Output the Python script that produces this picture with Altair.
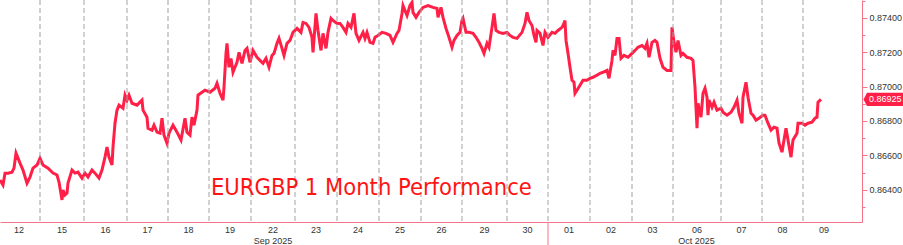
import altair as alt
import pandas as pd

# hourly-ish bar index and EURGBP price
bars = [0, 1.5, 2.5, 4, 6, 7, 8, 9, 10, 11.5, 13.5, 15, 16.5, 18.5, 20, 21.5, 24, 26.5, 28.5, 29.5,
        31, 31.5, 32.5, 33.5, 34, 36, 37.5, 39, 41, 42.5, 44, 46, 47.5, 49.5, 51, 52.5, 53.5, 54.5, 56, 56.5,
        57.5, 58.5, 59.5, 61.5, 62.5, 63.5, 64.5, 66, 68.5, 71, 71.5, 73.5, 74, 76, 77, 78.5, 80, 81, 82, 83.5,
        84.5, 86.5, 88.5, 90.5, 92.5, 93.5, 95, 96, 97, 98.5, 99, 101, 102.5, 105, 107.5, 108.5, 110, 111.5, 112, 113,
        113.5, 114.5, 115.5, 116.5, 117.5, 118.5, 119.5, 121, 122.5, 123.5, 125, 126.5, 128.5, 130, 131.5, 133, 134.5, 136, 137, 138.5,
        139.5, 141, 142, 143.5, 145, 146.5, 148.5, 150.5, 151.5, 153, 154.5, 156, 156.5, 158, 159, 160.5, 161.5, 163, 164, 165.5,
        166.5, 168.5, 170, 171.5, 173, 174, 175.5, 177, 178, 179.5, 181.5, 182.5, 183.5, 185, 186.5, 187.5, 189, 191, 193, 195,
        196.5, 198.5, 199.5, 201, 201.5, 203.5, 205, 206, 206.5, 208, 209.5, 211.5, 214, 216.5, 218.5, 219, 220.5, 221.5, 223, 224.5,
        226, 227, 228.5, 230, 231, 231.5, 233, 234.5, 236.5, 238, 239.5, 241, 242, 243.5, 244.5, 246, 247, 248, 249.5, 251.5,
        253.5, 255, 256.5, 258.5, 261, 262.5, 263.5, 264.5, 266, 267, 268, 268.5, 270, 271.5, 272.5, 274, 276, 277.5, 279, 281,
        281.5, 282.5, 283, 284, 285, 286, 287, 287.5, 288.5, 290, 291.5, 293.5, 295, 296.5, 298.5, 300, 301.5, 303.5, 304.5, 306,
        306.5, 307.5, 308.5, 309.5, 310.5, 312, 314, 316, 317.5, 319, 321, 322.5, 323.5, 324.5, 326, 327.5, 328.5, 330, 331.5, 333.5,
        335.5, 336, 337, 338, 339, 340.5, 341.5, 343.5, 345.5, 346.5, 347.5, 348.5, 349, 350.5, 351.5, 352.5, 353.5, 354, 354.5, 356,
        357, 358.5, 360.5, 361.5, 363.5, 365.5, 367, 368.5, 369.5, 371, 371.5, 373, 374, 375.5, 376.5, 378, 379.5, 381.5, 382.5, 384,
        385.5, 387, 388.5, 389.5, 391, 392, 393, 394, 395.5, 396.5, 398.5, 399, 401, 402.5, 404, 406, 407.5, 408.5, 409, 410.5]

prices = [0.86457, 0.86428, 0.86497, 0.86497, 0.86503, 0.86526, 0.86613, 0.86584, 0.86555, 0.86515, 0.86439, 0.86474, 0.86526, 0.86544, 0.86584, 0.86544, 0.86526, 0.86497, 0.86486, 0.86445,
          0.86341, 0.86399, 0.86370, 0.86381, 0.86439, 0.86515, 0.86497, 0.86503, 0.86468, 0.86497, 0.86474, 0.86515, 0.86497, 0.86468, 0.86515, 0.86590, 0.86648, 0.86590, 0.86544, 0.86648,
          0.86787, 0.86863, 0.86892, 0.86874, 0.86950, 0.86921, 0.86950, 0.86903, 0.86892, 0.86921, 0.86863, 0.86822, 0.86758, 0.86747, 0.86776, 0.86735, 0.86729, 0.86816, 0.86718, 0.86671,
          0.86729, 0.86776, 0.86735, 0.86689, 0.86816, 0.86735, 0.86718, 0.86822, 0.86776, 0.86863, 0.86950, 0.86967, 0.86979, 0.86967, 0.86990, 0.87019, 0.86961, 0.86921, 0.86996, 0.87193,
          0.87251, 0.87112, 0.87164, 0.87083, 0.87112, 0.87141, 0.87199, 0.87135, 0.87210, 0.87222, 0.87141, 0.87210, 0.87170, 0.87152, 0.87135, 0.87164, 0.87112, 0.87181, 0.87193, 0.87251,
          0.87280, 0.87222, 0.87181, 0.87251, 0.87268, 0.87315, 0.87338, 0.87315, 0.87373, 0.87367, 0.87344, 0.87286, 0.87199, 0.87425, 0.87326, 0.87210, 0.87309, 0.87222, 0.87315, 0.87396,
          0.87384, 0.87367, 0.87367, 0.87344, 0.87315, 0.87367, 0.87344, 0.87425, 0.87309, 0.87268, 0.87315, 0.87280, 0.87315, 0.87257, 0.87251, 0.87286, 0.87297, 0.87315, 0.87309, 0.87297,
          0.87257, 0.87309, 0.87326, 0.87425, 0.87471, 0.87413, 0.87471, 0.87489, 0.87431, 0.87402, 0.87431, 0.87460, 0.87471, 0.87460, 0.87454, 0.87402, 0.87460, 0.87402, 0.87338, 0.87286,
          0.87228, 0.87268, 0.87297, 0.87315, 0.87384, 0.87396, 0.87315, 0.87315, 0.87309, 0.87286, 0.87257, 0.87222, 0.87193, 0.87251, 0.87228, 0.87344, 0.87425, 0.87326, 0.87315, 0.87309,
          0.87315, 0.87297, 0.87286, 0.87280, 0.87315, 0.87367, 0.87431, 0.87384, 0.87355, 0.87297, 0.87257, 0.87326, 0.87309, 0.87239, 0.87315, 0.87286, 0.87315, 0.87309, 0.87326, 0.87344,
          0.87355, 0.87384, 0.87268, 0.87193, 0.87112, 0.87037, 0.87025, 0.86961, 0.86979, 0.87008, 0.87037, 0.87037, 0.87048, 0.87054, 0.87066, 0.87077, 0.87083, 0.87094, 0.87048, 0.87152,
          0.87210, 0.87181, 0.87280, 0.87280, 0.87164, 0.87181, 0.87170, 0.87193, 0.87210, 0.87228, 0.87239, 0.87222, 0.87251, 0.87170, 0.87257, 0.87268, 0.87257, 0.87164, 0.87112, 0.87094,
          0.87094, 0.87344, 0.87257, 0.87199, 0.87268, 0.87181, 0.87193, 0.87170, 0.87164, 0.87152, 0.86996, 0.86758, 0.86903, 0.86822, 0.86961, 0.86990, 0.86938, 0.86834, 0.86921, 0.86880,
          0.86909, 0.86863, 0.86874, 0.86851, 0.86834, 0.86851, 0.86880, 0.86921, 0.86845, 0.86787, 0.86938, 0.87025, 0.86938, 0.86845, 0.86834, 0.86805, 0.86816, 0.86834, 0.86834, 0.86787,
          0.86747, 0.86764, 0.86758, 0.86671, 0.86619, 0.86689, 0.86758, 0.86689, 0.86590, 0.86689, 0.86729, 0.86787, 0.86787, 0.86776, 0.86787, 0.86793, 0.86816, 0.86822, 0.86909, 0.86925]

day_labels = ["12", "15", "16", "17", "18", "19", "22", "23", "24", "25", "26", "29", "30",
              "01", "02", "03", "06", "07", "08", "09"]
session_starts = [-1, 20, 42, 63.5, 84, 104.5, 125.5, 147.5, 168.5, 189.5, 210.5, 231, 253.5,
                  274, 295, 316, 336.5, 360.5, 381, 401.5]
last_session_end = 422.5
month_labels = ["Sep 2025", "Oct 2025"]
month_starts = [-1, 274]
y_ticks = [0.863, 0.864, 0.865, 0.866, 0.867, 0.868, 0.869, 0.870, 0.871, 0.872, 0.873, 0.874, 0.875]
title_text = "EURGBP 1 Month Performance"

RED = "#ff1f47"
AXIS = "#f7738a"
FONT = "Liberation Sans"

price_df = pd.DataFrame({"bar": bars, "price": prices})
ends = session_starts[1:] + [last_session_end]
days_df = pd.DataFrame({"label": day_labels,
                        "center": [(s + e) / 2 for s, e in zip(session_starts, ends)]})
grid_df = pd.DataFrame({"bar": session_starts[1:]})
m_ends = month_starts[1:] + [last_session_end]
months_df = pd.DataFrame({"label": month_labels,
                          "center": [(s + e) / 2 for s, e in zip(month_starts, m_ends)]})
sep_df = pd.DataFrame({"bar": month_starts[1:]})
last_df = pd.DataFrame({"price": [prices[-1]], "txt": [f"{prices[-1]:.5f}"]})

xs = alt.Scale(domain=[0, 431], nice=False, zero=False)
ys = alt.Scale(domain=[0.86213, 0.87503], nice=False, zero=False)

even = "round(datum.value*1000) % 2 == 0"

line = alt.Chart(price_df).mark_line(color=RED, strokeWidth=3, interpolate="linear").encode(
    x=alt.X("bar:Q", scale=xs,
            axis=alt.Axis(orient="bottom", labels=False, ticks=False, grid=False, title=None,
                          domainColor=AXIS, domainWidth=1)),
    y=alt.Y("price:Q", scale=ys,
            axis=alt.Axis(orient="right", values=y_ticks, grid=False, title=None,
                          domainColor=AXIS, tickColor=AXIS, tickWidth=1,
                          tickSize={"condition": {"test": even, "value": 5}, "value": 3},
                          labelExpr=f"({even}) ? format(datum.value, '.5f') : ''",
                          labelFont=FONT, labelFontSize=9, labelColor="#333333",
                          labelPadding=2, labelBaseline="middle"))
)

grid = alt.Chart(grid_df).mark_rule(color="#a3a3a3", strokeWidth=1, strokeDash=[5, 3]).encode(
    x=alt.X("bar:Q", scale=xs, axis=None)
)

day_text = alt.Chart(days_df).mark_text(font=FONT, fontSize=9, color="#333333",
                                        baseline="alphabetic", align="center").encode(
    x=alt.X("center:Q", scale=xs, axis=None),
    y=alt.value(232.5),
    text="label:N"
)

month_text = alt.Chart(months_df).mark_text(font=FONT, fontSize=9, color="#333333",
                                            baseline="alphabetic", align="center").encode(
    x=alt.X("center:Q", scale=xs, axis=None),
    y=alt.value(243.5),
    text="label:N"
)

sep = alt.Chart(sep_df).mark_rule(color=AXIS, strokeWidth=1).encode(
    x=alt.X("bar:Q", scale=xs, axis=None),
    y=alt.value(222),
    y2=alt.value(245)
)

title = alt.Chart(pd.DataFrame({"t": [title_text]})).mark_text(
    font="DejaVu Sans Condensed, DejaVu Sans", fontSize=23.5, color="#ff1414",
    align="left", baseline="alphabetic").encode(
    x=alt.value(211), y=alt.value(194.5), text="t:N"
)

tag_path = "M-1,0 L-0.825,-0.33 L1,-0.33 L1,0.33 L-0.825,0.33 Z"
tag = alt.Chart(last_df).mark_point(shape=tag_path, filled=True, color=RED, opacity=1,
                                    size=1600, strokeWidth=0).encode(
    x=alt.value(883.5),
    y=alt.Y("price:Q", scale=ys, axis=None)
)
tag_text = alt.Chart(last_df).mark_text(font=FONT, fontSize=9, color="white",
                                        align="left", baseline="middle").encode(
    x=alt.value(869),
    y=alt.Y("price:Q", scale=ys, axis=None),
    text="txt:N"
)

chart = alt.layer(line, grid, sep, day_text, month_text, title, tag, tag_text).resolve_axis(
    x="independent", y="independent"
).properties(
    width=862, height=222,
    padding={"left": 0, "top": 0, "right": 41, "bottom": 23},
    autosize=alt.AutoSizeParams(type="none"),
    background="white"
).configure_view(stroke=None)

chart.save("out.html", embed_options={"renderer": "svg", "actions": False})
